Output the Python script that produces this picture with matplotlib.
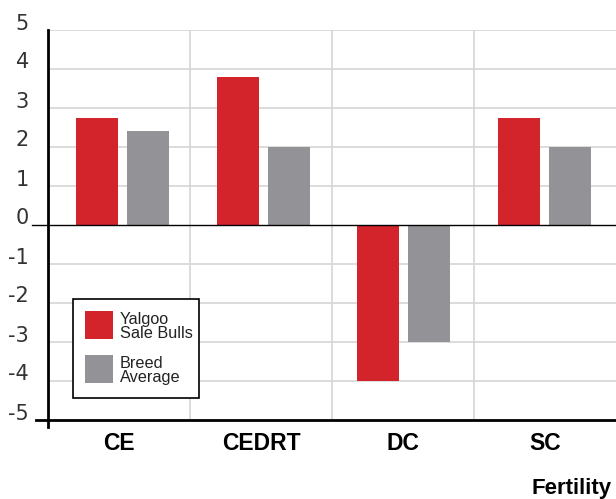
import matplotlib
matplotlib.use("Agg")
import matplotlib.pyplot as plt
from matplotlib.patches import Rectangle
from matplotlib.transforms import Affine2D, ScaledTranslation, blended_transform_factory
import numpy as np

categories = ["CE", "CEDRT", "DC", "SC"]
yalgoo_sale_bulls = [2.75, 3.8, -4.0, 2.75]
breed_average = [2.4, 2.0, -3.0, 2.0]
series_labels = ["Yalgoo\nSale Bulls", "Breed\nAverage"]
y_ticks = [5, 4, 3, 2, 1, 0, -1, -2, -3, -4, -5]
x_title = "Fertility"

RED = "#d3232b"
GREY = "#939296"
GRID = "#d6d6d6"
FONT = "Liberation Sans"

W, H = 616, 499
fig = plt.figure(figsize=(W / 100, H / 100), dpi=100)
ax_left, ax_right, ax_top, ax_bottom = 48, 616, 30, 420
ax = fig.add_axes([ax_left / W, (H - ax_bottom) / H, (ax_right - ax_left) / W, (ax_bottom - ax_top) / H])
pix = Affine2D().scale(1 / W, -1 / H).translate(0, 1) + fig.transFigure

x = np.arange(len(categories))
group = x * 0.99 + 0.025
bw = 0.296
ax.bar(group - 0.18, yalgoo_sale_bulls, width=bw, color=RED, zorder=3)
ax.bar(group + 0.18, breed_average, width=bw, color=GREY, zorder=3)

ax.set_xlim(-0.5, len(categories) - 0.5)
ax.set_ylim(-5, 5)
for s in ax.spines.values():
    s.set_visible(False)

# grid
for v in y_ticks:
    if v not in (0, -5):
        ax.axhline(v, color=GRID, lw=1.2, zorder=1)
for b in np.arange(0.5, len(categories) - 0.5, 1.0):
    ax.axvline(b, color=GRID, lw=1.2, zorder=1)

bt = blended_transform_factory(ax.transAxes, ax.transData)
aw = ax_right - ax_left
ax.plot([-16 / aw, 1], [0, 0], color="black", lw=1.0, transform=bt, clip_on=False, zorder=4)
ax.plot([-12 / aw, 1], [-5, -5], color="black", lw=2.0, transform=bt, clip_on=False, zorder=4)
ax.plot([0, 0], [-7 / (ax_bottom - ax_top), 1], color="black", lw=2.0, transform=ax.transAxes,
        clip_on=False, zorder=4)

# ticks
ax.set_yticks(y_ticks)
ax.set_yticklabels([str(v) for v in y_ticks], fontsize=15, family="DejaVu Sans", color="#333333",
                   va="baseline")
ax.tick_params(axis="y", length=0, pad=13.7)
off = ScaledTranslation(0, 0.5 / 100, fig.dpi_scale_trans)
for lab in ax.get_yticklabels():
    lab.set_transform(lab.get_transform() + off)

ax.set_xticks(x)
ax.set_xticklabels(categories, fontsize=16.5, family=FONT, fontweight="bold")
ax.tick_params(axis="x", length=0, pad=9)

fig.text(612, 494, x_title, transform=pix, ha="right", va="baseline", fontsize=16,
         family=FONT, fontweight="bold")

# legend
fig.patches.append(Rectangle((73, 398), 126, -99, transform=pix, facecolor="white",
                             edgecolor="black", lw=1.2, zorder=5))
fig.patches.append(Rectangle((85, 339), 28, -28, transform=pix, facecolor=RED, edgecolor="none", zorder=6))
fig.patches.append(Rectangle((85, 383), 28, -28, transform=pix, facecolor=GREY, edgecolor="none", zorder=6))
fig.text(120, 338, series_labels[0], transform=pix, ha="left", va="baseline", fontsize=11.7,
         family=FONT, color="#222222", linespacing=0.95, zorder=7)
fig.text(120, 382, series_labels[1], transform=pix, ha="left", va="baseline", fontsize=11.7,
         family=FONT, color="#222222", linespacing=0.95, zorder=7)

fig.savefig("out.png", dpi=100)
